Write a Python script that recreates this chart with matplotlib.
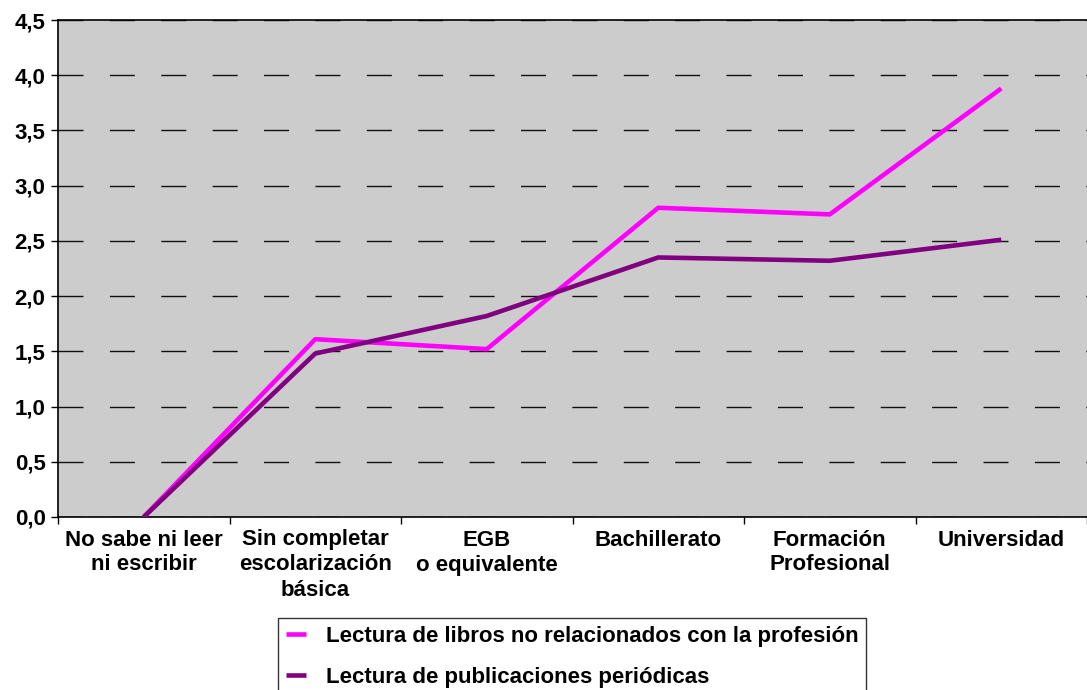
import numpy as np
import matplotlib
matplotlib.use("Agg")
import matplotlib.pyplot as plt
from matplotlib.ticker import FuncFormatter, MultipleLocator

plt.rcParams['font.family'] = ['Liberation Sans', 'DejaVu Sans']
plt.rcParams['font.weight'] = 'bold'

categories = ["No sabe ni leer\nni escribir", "Sin completar\nescolarización\nbásica",
              "EGB\no equivalente", "Bachillerato", "Formación\nProfesional", "Universidad"]
libros = [0.0, 1.61, 1.52, 2.80, 2.74, 3.88]
periodicas = [0.0, 1.48, 1.82, 2.35, 2.32, 2.51]
series_names = ["Lectura de libros no relacionados con la profesión",
                "Lectura de publicaciones periódicas"]

fig = plt.figure(figsize=(10.87, 6.9), dpi=100)
ax = fig.add_axes([58 / 1087, 173 / 690, 1 - 58 / 1087, 497 / 690])
ax.set_facecolor("#cccccc")

x = np.arange(len(categories))
ax.plot(x, libros, color="#ff00ff", lw=3.3, label=series_names[0], solid_capstyle="butt", zorder=3)
ax.plot(x, periodicas, color="#800080", lw=3.3, label=series_names[1], solid_capstyle="butt", zorder=3)

ax.set_xlim(-0.5, len(categories) - 0.5)
ax.set_ylim(0, 4.5)
ax.yaxis.set_major_locator(MultipleLocator(0.5))
ax.yaxis.set_major_formatter(FuncFormatter(lambda v, p: f"{v:.1f}".replace(".", ",")))
ax.yaxis.grid(True, color="#111111", lw=1.0, linestyle=(0, (18, 19)))
ax.set_axisbelow(True)

ax.set_xticks(x)
ax.set_xticklabels(categories, fontsize=16, fontweight="bold", linespacing=1.25)
ax.set_xticks(np.arange(-0.5, len(categories)), minor=True)
ax.tick_params(axis="x", which="major", length=0, pad=9)
ax.tick_params(axis="x", which="minor", length=5, width=1, direction="out")
ax.tick_params(axis="y", labelsize=16, length=5, width=1, direction="out", pad=4)
for lab in ax.get_yticklabels():
    lab.set_fontweight("bold")

for s in ["left", "bottom", "top"]:
    ax.spines[s].set_color("black")
    ax.spines[s].set_linewidth(1.2)
ax.spines["right"].set_visible(False)

leg = fig.legend(loc="upper left", bbox_to_anchor=(278 / 1087, 1 - 618 / 690),
                 fontsize=16, frameon=True, fancybox=False, edgecolor="black",
                 handlelength=0.9, handletextpad=0.9, borderpad=0.35,
                 labelspacing=0.9, borderaxespad=0)
leg.get_frame().set_linewidth(1.0)
for t in leg.get_texts():
    t.set_fontweight("bold")

fig.savefig("out.png", dpi=100)
